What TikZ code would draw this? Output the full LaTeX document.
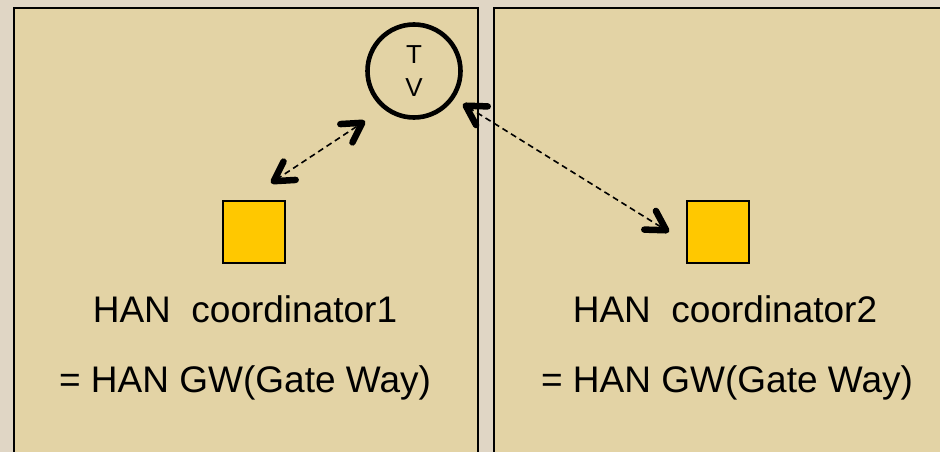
\documentclass[tikz,border=0pt]{standalone}
\usepackage{fontspec}
\setmainfont{Liberation Sans}
\usetikzlibrary{arrows.meta}
\definecolor{pagebg}{HTML}{E0D6C5}
\definecolor{panelfill}{HTML}{E3D3A5}
\definecolor{boxfill}{HTML}{FFC800}
\tikzset{
  barb/.tip={Straight Barb[length=19pt, width=22pt, line width=6.5pt, round]},
  panel/.style={draw=black, line width=2.6pt, fill=panelfill},
  device/.style={draw=black, line width=2.6pt, fill=boxfill, minimum size=62pt, inner sep=0pt},
  tvset/.style={circle, draw=black, line width=4.6pt, minimum size=93pt, inner sep=0pt,
    align=center, font=\fontsize{26}{33}\selectfont},
  caption/.style={font=\fontsize{37}{44}\selectfont, inner sep=0pt, anchor=base},
  link/.style={dashed, dash pattern=on 6pt off 4pt, line width=1.6pt, barb-barb},
}
\begin{document}
\begin{tikzpicture}[x=1pt, y=-1pt]
  \useasboundingbox (0,0) rectangle (940,452);
  \fill[pagebg] (0,0) rectangle (940,452);
  % two rooms
  \draw[panel] (14,8) rectangle (478,470);
  \draw[panel] (494,8) rectangle (960,470);
  % television
  \node[tvset] (tv) at (414,71) {T\\V};
  % coordinators
  \node[device] (c1) at (254,232) {};
  \node[device] (c2) at (718,232) {};
  \node[caption] (l1a) at (245,322) {HAN\ \ coordinator1};
  \node[caption] (l1b) at (245,392) {= HAN GW(Gate Way)};
  \node[caption] (l2a) at (725,322) {HAN\ \ coordinator2};
  \node[caption] (l2b) at (727,392) {= HAN GW(Gate Way)};
  % link end points
  \coordinate (a1) at (271,183);
  \coordinate (a2) at (365,121);
  \coordinate (b1) at (463,104);
  \coordinate (b2) at (669,232);
  \draw[link] (a1) -- (a2);
  \draw[link] (b1) -- (b2);
\end{tikzpicture}
\end{document}
